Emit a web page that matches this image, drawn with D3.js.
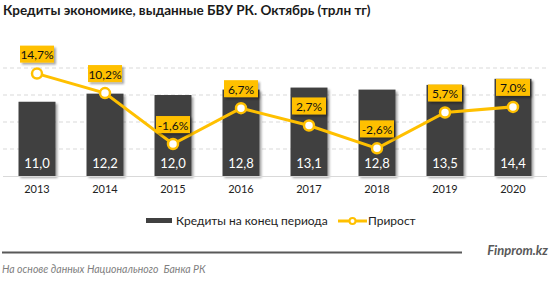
<!DOCTYPE html>
<html>
<head>
<meta charset="utf-8">
<script src="https://cdn.jsdelivr.net/npm/d3@7"></script>
<style>
  body { margin: 0; background: #fff; }
  svg { display: block; font-family: Lato, "Open Sans", sans-serif; }
</style>
</head>
<body>
<script>
// chart data
const years = ["2013", "2014", "2015", "2016", "2017", "2018", "2019", "2020"];
const credits = [11.0, 12.2, 12.0, 12.8, 13.1, 12.8, 13.5, 14.4];
const growth = [14.7, 10.2, -1.6, 6.7, 2.7, -2.6, 5.7, 7.0];
const gridTicks = [4, 8, 12, 16];

const W = 549, H = 281;
const YELLOW = "#FFC000", BAR = "#404040";
const fmt = v => v.toFixed(1).replace(".", ",");

const svg = d3.select("body").append("svg").attr("width", W).attr("height", H);

const defs = svg.append("defs");
const sh = defs.append("filter").attr("id", "shadow")
    .attr("x", "-20%").attr("y", "-20%").attr("width", "150%").attr("height", "150%");
sh.append("feDropShadow").attr("dx", 2).attr("dy", 2).attr("stdDeviation", 1.2)
    .attr("flood-color", "#000").attr("flood-opacity", 0.35);

// title
svg.append("text").attr("x", 3).attr("y", 15)
    .attr("font-size", 13.5).attr("font-weight", "bold").attr("fill", "#1a1a1a")
    .text("Кредиты экономике, выданные БВУ РК. Октябрь (трлн тг)");

const x = d3.scaleBand().domain(years).range([3, 547]).paddingInner(0.456).paddingOuter(0.228);
const y = d3.scaleLinear().domain([0, 16]).range([176, 68]);
const y2 = d3.scaleLinear().domain([-9, 16]).range([176, 68]);

// gridlines
svg.append("g").selectAll("line").data(gridTicks).join("line")
    .attr("x1", 3).attr("x2", 547)
    .attr("y1", d => y(d)).attr("y2", d => y(d))
    .attr("stroke", "#d9d9d9").attr("stroke-dasharray", "4,3");

// bars
svg.append("g").selectAll("rect").data(years).join("rect")
    .attr("x", d => x(d)).attr("width", x.bandwidth())
    .attr("y", (d, i) => y(credits[i])).attr("height", (d, i) => y(0) - y(credits[i]))
    .attr("fill", BAR).attr("filter", "url(#shadow)");

svg.append("g").selectAll("text").data(years).join("text")
    .attr("x", d => x(d) + x.bandwidth() / 2).attr("y", 168)
    .attr("text-anchor", "middle").attr("font-size", 13).attr("fill", "#fff")
    .text((d, i) => fmt(credits[i]));

// baseline
svg.append("line").attr("x1", 3).attr("x2", 547).attr("y1", 176.5).attr("y2", 176.5)
    .attr("stroke", "#d9d9d9");

// x axis labels
svg.append("g").selectAll("text").data(years).join("text")
    .attr("x", d => x(d) + x.bandwidth() / 2).attr("y", 193)
    .attr("text-anchor", "middle").attr("font-size", 11).attr("fill", "#222")
    .text(d => d);

// growth line
const cx = d => x(d) + x.bandwidth() / 2;
svg.append("path").datum(years)
    .attr("fill", "none").attr("stroke", YELLOW).attr("stroke-width", 3)
    .attr("d", d3.line().x(cx).y((d, i) => y2(growth[i])));

svg.append("g").selectAll("circle").data(years).join("circle")
    .attr("cx", cx).attr("cy", (d, i) => y2(growth[i])).attr("r", 5)
    .attr("fill", "#fff").attr("stroke", YELLOW).attr("stroke-width", 2.5);

// growth labels
const lab = svg.append("g").selectAll("g").data(years).join("g")
    .attr("transform", (d, i) => `translate(${cx(d)},${y2(growth[i]) - 19})`);
lab.append("rect").attr("x", -17).attr("y", -9).attr("width", 34).attr("height", 17)
    .attr("fill", YELLOW).attr("filter", "url(#shadow)");
lab.append("text").attr("y", 4.5).attr("text-anchor", "middle")
    .attr("font-size", 12).attr("fill", "#111")
    .text((d, i) => fmt(growth[i]) + "%");

// legend
const lg = svg.append("g").attr("font-size", 12).attr("fill", "#222");
lg.append("rect").attr("x", 146).attr("y", 218).attr("width", 26).attr("height", 5).attr("fill", BAR);
lg.append("text").attr("x", 176).attr("y", 224.5).text("Кредиты на конец периода");
lg.append("line").attr("x1", 338).attr("x2", 367).attr("y1", 221).attr("y2", 221)
    .attr("stroke", YELLOW).attr("stroke-width", 3);
lg.append("circle").attr("cx", 352.5).attr("cy", 221).attr("r", 3)
    .attr("fill", "#fff").attr("stroke", YELLOW).attr("stroke-width", 2);
lg.append("text").attr("x", 368).attr("y", 224.5).text("Прирост");

// footer
svg.append("line").attr("x1", 2).attr("x2", 462).attr("y1", 252.5).attr("y2", 252.5)
    .attr("stroke", "#595959").attr("stroke-width", 2);
svg.append("text").attr("x", 548).attr("y", 255).attr("text-anchor", "end")
    .attr("font-size", 13).attr("font-weight", "bold").attr("font-style", "italic")
    .attr("fill", "#595959").text("Finprom.kz");
svg.append("text").attr("x", 2).attr("y", 273)
    .attr("font-size", 10.5).attr("font-style", "italic").attr("fill", "#7f7f7f")
    .attr("xml:space", "preserve").style("white-space", "pre")
    .text("На основе данных Национального  Банка РК");
</script>
</body>
</html>
